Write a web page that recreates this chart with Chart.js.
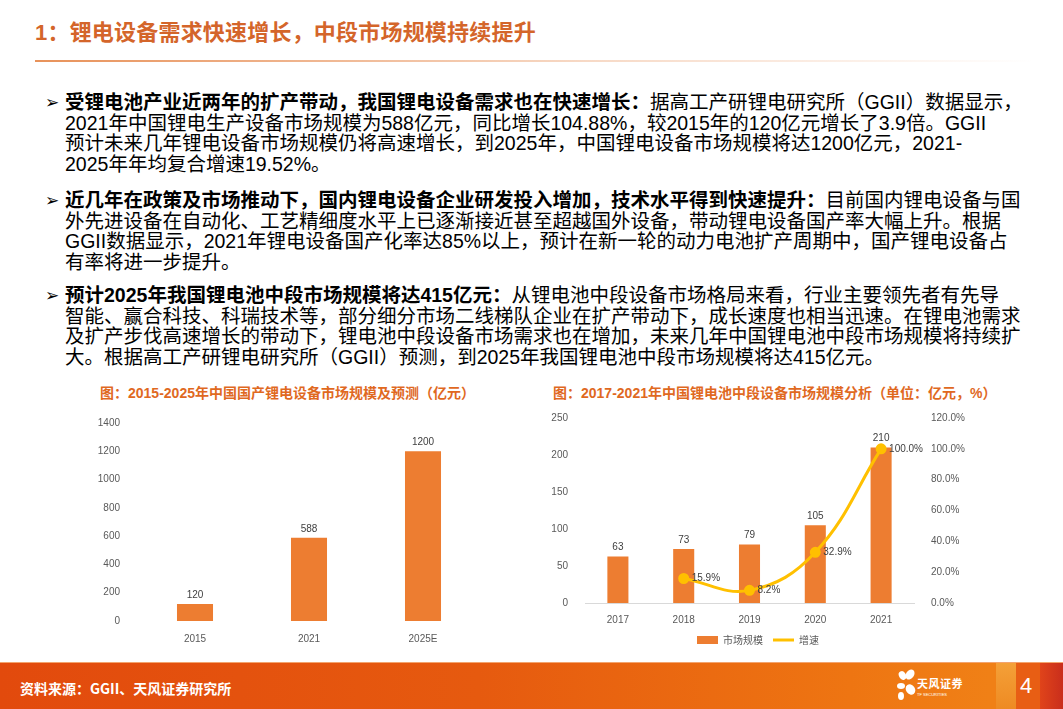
<!DOCTYPE html>
<html>
<head>
<meta charset="utf-8">
<script src="https://cdn.jsdelivr.net/npm/chart.js@4.4.1/dist/chart.umd.min.js"></script>
<style>
html, body { margin: 0; padding: 0; }
body { width: 1063px; height: 709px; position: relative; overflow: hidden; background: #fff;
       font-family: "Liberation Sans", "Noto Sans CJK SC", sans-serif; }
.title { position: absolute; left: 35px; top: 18px; font-size: 22px; line-height: 30px; font-weight: 700; color: #D4652A; letter-spacing: 0.2px; }
.rule { position: absolute; left: 35px; top: 60px; width: 1000px; height: 2px;
        background: linear-gradient(90deg, #E8925A 0%, rgba(232,146,90,0.35) 55%, rgba(232,146,90,0) 100%); }
.para { position: absolute; left: 65px; font-size: 19.5px; line-height: 20.7px; color: #000; white-space: nowrap; }
.para b { font-weight: 700; }
.bullet { position: absolute; left: -20px; top: 0; font-size: 17px; font-family: "DejaVu Sans"; }
.ctitle { position: absolute; font-size: 14px; line-height: 18px; font-weight: 700; color: #E0691F; white-space: nowrap; }
canvas { position: absolute; }
.footer { position: absolute; left: 0; top: 662px; width: 1063px; height: 47px;
          background: linear-gradient(90deg, #E24A0D 0%, #E65A0F 45%, #EE7512 80%, #F08016 93%); border-top: 1px solid #F3A46E; }
.source { position: absolute; left: 20px; top: 15px; font-size: 14px; font-weight: 700; color: #fff; font-family: "Noto Sans CJK SC"; }
.blk { position: absolute; top: 0; height: 47px; }
.pageno { position: absolute; left: 1020px; top: 10px; font-size: 22px; color: #fff; font-family: "Liberation Sans"; }
.petal { position: absolute; background: #fff; border-radius: 50%; }
.logo1 { position: absolute; left: 917px; top: 12px; font-size: 11px; font-weight: 700; color: #fff; font-family: "Noto Sans CJK SC"; letter-spacing: 0.5px; }
.logo2 { position: absolute; left: 917px; top: 29px; font-size: 4px; color: #fff; }
</style>
</head>
<body>
<div class="title">1：锂电设备需求快速增长，中段市场规模持续提升</div>
<div class="rule"></div>

<div class="para" style="top:92px"><span class="bullet">➢</span><b>受锂电池产业近两年的扩产带动，我国锂电设备需求也在快速增长：</b>据高工产研锂电研究所（GGII）数据显示，<br>2021年中国锂电生产设备市场规模为588亿元，同比增长104.88%，较2015年的120亿元增长了3.9倍。GGII<br>预计未来几年锂电设备市场规模仍将高速增长，到2025年，中国锂电设备市场规模将达1200亿元，2021-<br>2025年年均复合增速19.52%。</div>

<div class="para" style="top:190px"><span class="bullet">➢</span><b>近几年在政策及市场推动下，国内锂电设备企业研发投入增加，技术水平得到快速提升：</b>目前国内锂电设备与国<br>外先进设备在自动化、工艺精细度水平上已逐渐接近甚至超越国外设备，带动锂电设备国产率大幅上升。根据<br>GGII数据显示，2021年锂电设备国产化率达85%以上，预计在新一轮的动力电池扩产周期中，国产锂电设备占<br>有率将进一步提升。</div>

<div class="para" style="top:285px"><span class="bullet">➢</span><b>预计2025年我国锂电池中段市场规模将达415亿元：</b>从锂电池中段设备市场格局来看，行业主要领先者有先导<br>智能、赢合科技、科瑞技术等，部分细分市场二线梯队企业在扩产带动下，成长速度也相当迅速。在锂电池需求<br>及扩产步伐高速增长的带动下，锂电池中段设备市场需求也在增加，未来几年中国锂电池中段市场规模将持续扩<br>大。根据高工产研锂电研究所（GGII）预测，到2025年我国锂电池中段市场规模将达415亿元。</div>

<div class="ctitle" style="left:100px; top:384px">图：2015-2025年中国国产锂电设备市场规模及预测（亿元）</div>
<div class="ctitle" style="left:553px; top:384px">图：2017-2021年中国锂电池中段设备市场规模分析（单位：亿元，%）</div>

<canvas id="canvasEquipSize" width="410" height="240" style="left:90px; top:405px"></canvas>
<canvas id="canvasMidSize" width="436" height="255" style="left:540px; top:400px"></canvas>

<div class="footer">
  <div class="source">资料来源：GGII、天风证券研究所</div>
  <div class="petal" style="left:899px; top:8px; width:7px; height:9px; transform:rotate(-30deg)"></div>
  <div class="petal" style="left:906px; top:6px; width:8px; height:11px; transform:rotate(35deg)"></div>
  <div class="petal" style="left:897px; top:20px; width:8px; height:6px;"></div>
  <div class="petal" style="left:906px; top:21px; width:9px; height:11px; transform:rotate(-35deg)"></div>
  <div class="petal" style="left:898px; top:29px; width:6px; height:8px;"></div>
  <div class="logo1">天风证券</div>
  <div class="logo2">TF SECURITIES</div>
  <div class="blk" style="left:996px; width:20px; background:linear-gradient(180deg,#F4A038,#EE8A22)"></div>
  <div class="blk" style="left:1016px; width:24px; background:#E85E14"></div>
  <div class="blk" style="left:1040px; width:23px; background:linear-gradient(90deg,#E0441A,#C92E1C)"></div>
  <div class="pageno">4</div>
</div>

<script>
const equipYears = ['2015', '2021', '2025E'];
const equipValues = [120, 588, 1200];
const equipTicks = [0, 200, 400, 600, 800, 1000, 1200, 1400];

const midYears = ['2017', '2018', '2019', '2020', '2021'];
const midValues = [63, 73, 79, 105, 210];
const midGrowth = [null, 15.9, 8.2, 32.9, 100.0];
const midTicks = [0, 50, 100, 150, 200, 250];
const growthTicks = [0, 20, 40, 60, 80, 100, 120];

const orange = '#ED7D31';
const yellow = '#FFC000';
const tickGray = '#595959';

Chart.defaults.font.family = '"Liberation Sans", "Noto Sans CJK SC", sans-serif';
Chart.defaults.font.size = 10;
Chart.defaults.color = tickGray;

// values written over bars and next to line points
const valueLabels = {
    id: 'valueLabels',
    afterDatasetsDraw(chart) {
        const ctx = chart.ctx;
        chart.data.datasets.forEach((ds, i) => {
            const meta = chart.getDatasetMeta(i);
            meta.data.forEach((el, j) => {
                const v = ds.data[j];
                if (v == null) return;
                ctx.save();
                ctx.font = '10px "Liberation Sans"';
                ctx.fillStyle = '#404040';
                if (meta.type === 'bar') {
                    ctx.textAlign = 'center';
                    ctx.textBaseline = 'bottom';
                    ctx.fillText(String(v), el.x, el.y - 4);
                } else {
                    ctx.textAlign = 'left';
                    ctx.textBaseline = 'middle';
                    ctx.fillText(v.toFixed(1) + '%', el.x + 8, el.y);
                }
                ctx.restore();
            });
        });
    }
};

function fixedTicks(list)
{
    return axis => { axis.ticks = list.map(v => ({ value: v })); };
}

function drawEquipSize()
{
    const ctx = document.getElementById('canvasEquipSize').getContext('2d');
    new Chart(ctx, {
        type: 'bar',
        data: {
            labels: equipYears,
            datasets: [{
                label: '市场规模',
                data: equipValues,
                backgroundColor: orange,
                categoryPercentage: 1,
                barPercentage: 0.316
            }]
        },
        options: {
            responsive: false,
            animation: false,
            layout: { padding: { top: 18, right: 20, left: 0, bottom: 0 } },
            plugins: { legend: { display: false }, tooltip: { enabled: false } },
            scales: {
                x: {
                    grid: { display: false },
                    border: { display: false },
                    ticks: { padding: 4 },
                    afterFit: s => { s.height = 24; }
                },
                y: {
                    min: 0, max: 1400,
                    afterBuildTicks: fixedTicks(equipTicks),
                    grid: { display: false },
                    border: { display: false },
                    ticks: { padding: 10, callback: v => String(v) },
                    afterFit: s => { s.width = 48; }
                }
            }
        },
        plugins: [valueLabels]
    });
}

function drawMidSize()
{
    const ctx = document.getElementById('canvasMidSize').getContext('2d');
    new Chart(ctx, {
        type: 'bar',
        data: {
            labels: midYears,
            datasets: [{
                type: 'bar',
                label: '市场规模',
                data: midValues,
                backgroundColor: orange,
                categoryPercentage: 1,
                barPercentage: 0.32,
                yAxisID: 'y',
                order: 1
            }, {
                type: 'line',
                label: '增速',
                data: midGrowth,
                borderColor: yellow,
                backgroundColor: yellow,
                borderWidth: 3,
                pointRadius: 4,
                pointBackgroundColor: yellow,
                pointBorderColor: yellow,
                tension: 0.4,
                yAxisID: 'y1',
                order: 0
            }]
        },
        options: {
            responsive: false,
            animation: false,
            layout: { padding: { top: 18, right: 0, left: 0, bottom: 0 } },
            plugins: {
                tooltip: { enabled: false },
                legend: {
                    position: 'bottom',
                    labels: {
                        usePointStyle: true,
                        pointStyleWidth: 21,
                        boxHeight: 8,
                        padding: 10,
                        color: tickGray,
                        font: { size: 10, family: '"Noto Sans CJK SC"' },
                        sort: (a, b) => a.datasetIndex - b.datasetIndex,
                        generateLabels(chart) {
                            const items = Chart.defaults.plugins.legend.labels.generateLabels(chart);
                            items.forEach(it => {
                                if (it.datasetIndex === 0) {
                                    it.pointStyle = 'rect';
                                    it.lineWidth = 0;
                                    it.fillStyle = orange;
                                } else {
                                    it.pointStyle = 'line';
                                    it.lineWidth = 3;
                                    it.strokeStyle = yellow;
                                }
                            });
                            return items;
                        }
                    }
                }
            },
            scales: {
                x: {
                    grid: { display: false },
                    border: { display: true, color: '#D9D9D9', width: 1 },
                    ticks: { padding: 3 },
                    afterFit: s => { s.height = 22; }
                },
                y: {
                    position: 'left',
                    min: 0, max: 250,
                    afterBuildTicks: fixedTicks(midTicks),
                    grid: { display: false },
                    border: { display: false },
                    ticks: { padding: 9 },
                    afterFit: s => { s.width = 45; }
                },
                y1: {
                    position: 'right',
                    min: 0, max: 120,
                    afterBuildTicks: fixedTicks(growthTicks),
                    grid: { display: false },
                    border: { display: false },
                    ticks: { padding: 9, callback: v => v.toFixed(1) + '%' },
                    afterFit: s => { s.width = 62; }
                }
            }
        },
        plugins: [valueLabels]
    });
}

drawEquipSize();
drawMidSize();
</script>
</body>
</html>
